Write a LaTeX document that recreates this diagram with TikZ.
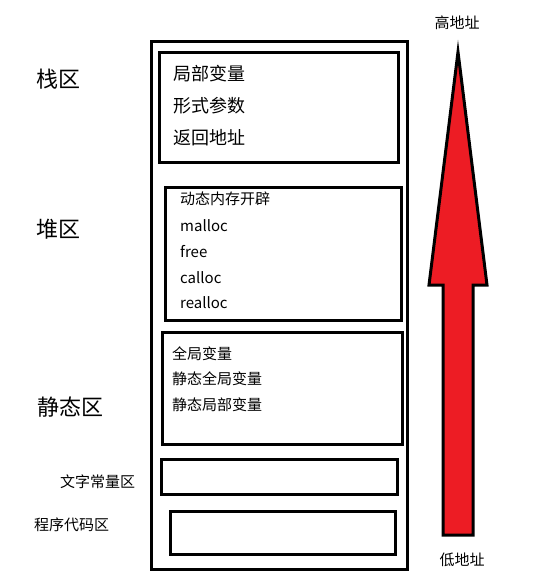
\documentclass[tikz,border=0pt]{standalone}
\usepackage{fontspec}
\setmainfont{Noto Sans CJK SC}
\usetikzlibrary{positioning}

\begin{document}
\begin{tikzpicture}[
    x=1pt, y=-1pt,
    region/.style={draw, line width=3pt, rectangle, inner sep=0pt, anchor=north west},
    item/.style={anchor=west, inner sep=0pt, font=\fontsize{15}{15}\selectfont},
    bigitem/.style={anchor=west, inner sep=0pt, font=\fontsize{18}{18}\selectfont},
    area/.style={anchor=west, inner sep=0pt, font=\fontsize{22}{22}\selectfont},
    smallarea/.style={anchor=west, inner sep=0pt, font=\fontsize{15}{15}\selectfont},
    addr/.style={inner sep=0pt, font=\fontsize{15}{15}\selectfont},
    bigarrow/.style={draw, line width=3pt, fill=arrowred},
]
\definecolor{arrowred}{HTML}{ED1C24}
\useasboundingbox (0,0) rectangle (535,580);

% Memory
\node[region, minimum width=256pt, minimum height=528pt] (memory) at (150,40) {};

% Stack
\node[region, minimum width=239pt, minimum height=110pt] (stackbox) at (158,51) {};
\node[bigitem] (local) at (173,74) {局部变量};
\node[bigitem] (param) at (173,106) {形式参数};
\node[bigitem] (ret) at (173,138) {返回地址};

% Heap
\node[region, minimum width=236pt, minimum height=133pt] (heapbox) at (164,186) {};
\node[item] (dyn) at (180,199) {动态内存开辟};
\node[item] (malloc) at (180,226) {malloc};
\node[item] (free) at (180,252) {free};
\node[item] (calloc) at (180,278) {calloc};
\node[item] (realloc) at (180,303) {realloc};

% Static
\node[region, minimum width=240pt, minimum height=112pt] (staticbox) at (161,331) {};
\node[item] (global) at (172,354) {全局变量};
\node[item] (sglobal) at (172,379) {静态全局变量};
\node[item] (slocal) at (172,405) {静态局部变量};

% Literals and code
\node[region, minimum width=236pt, minimum height=35pt] (constbox) at (160,458) {};
\node[region, minimum width=225pt, minimum height=43pt] (codebox) at (169,510) {};

% Area names
\node[area] (stack) at (36,79) {栈区};
\node[area] (heap) at (36,229) {堆区};
\node[area] (static) at (37,407) {静态区};
\node[smallarea] (const) at (60,482) {文字常量区};
\node[smallarea] (code) at (34,525) {程序代码区};

% Address arrow
\node[addr] (high) at (457,23) {高地址};
\node[addr] (low) at (462,560) {低地址};
\draw[bigarrow] (458,52) -- (487,285) -- (473,285) -- (473,535)
    -- (443,535) -- (443,285) -- (429,285) -- cycle;

\end{tikzpicture}
\end{document}
